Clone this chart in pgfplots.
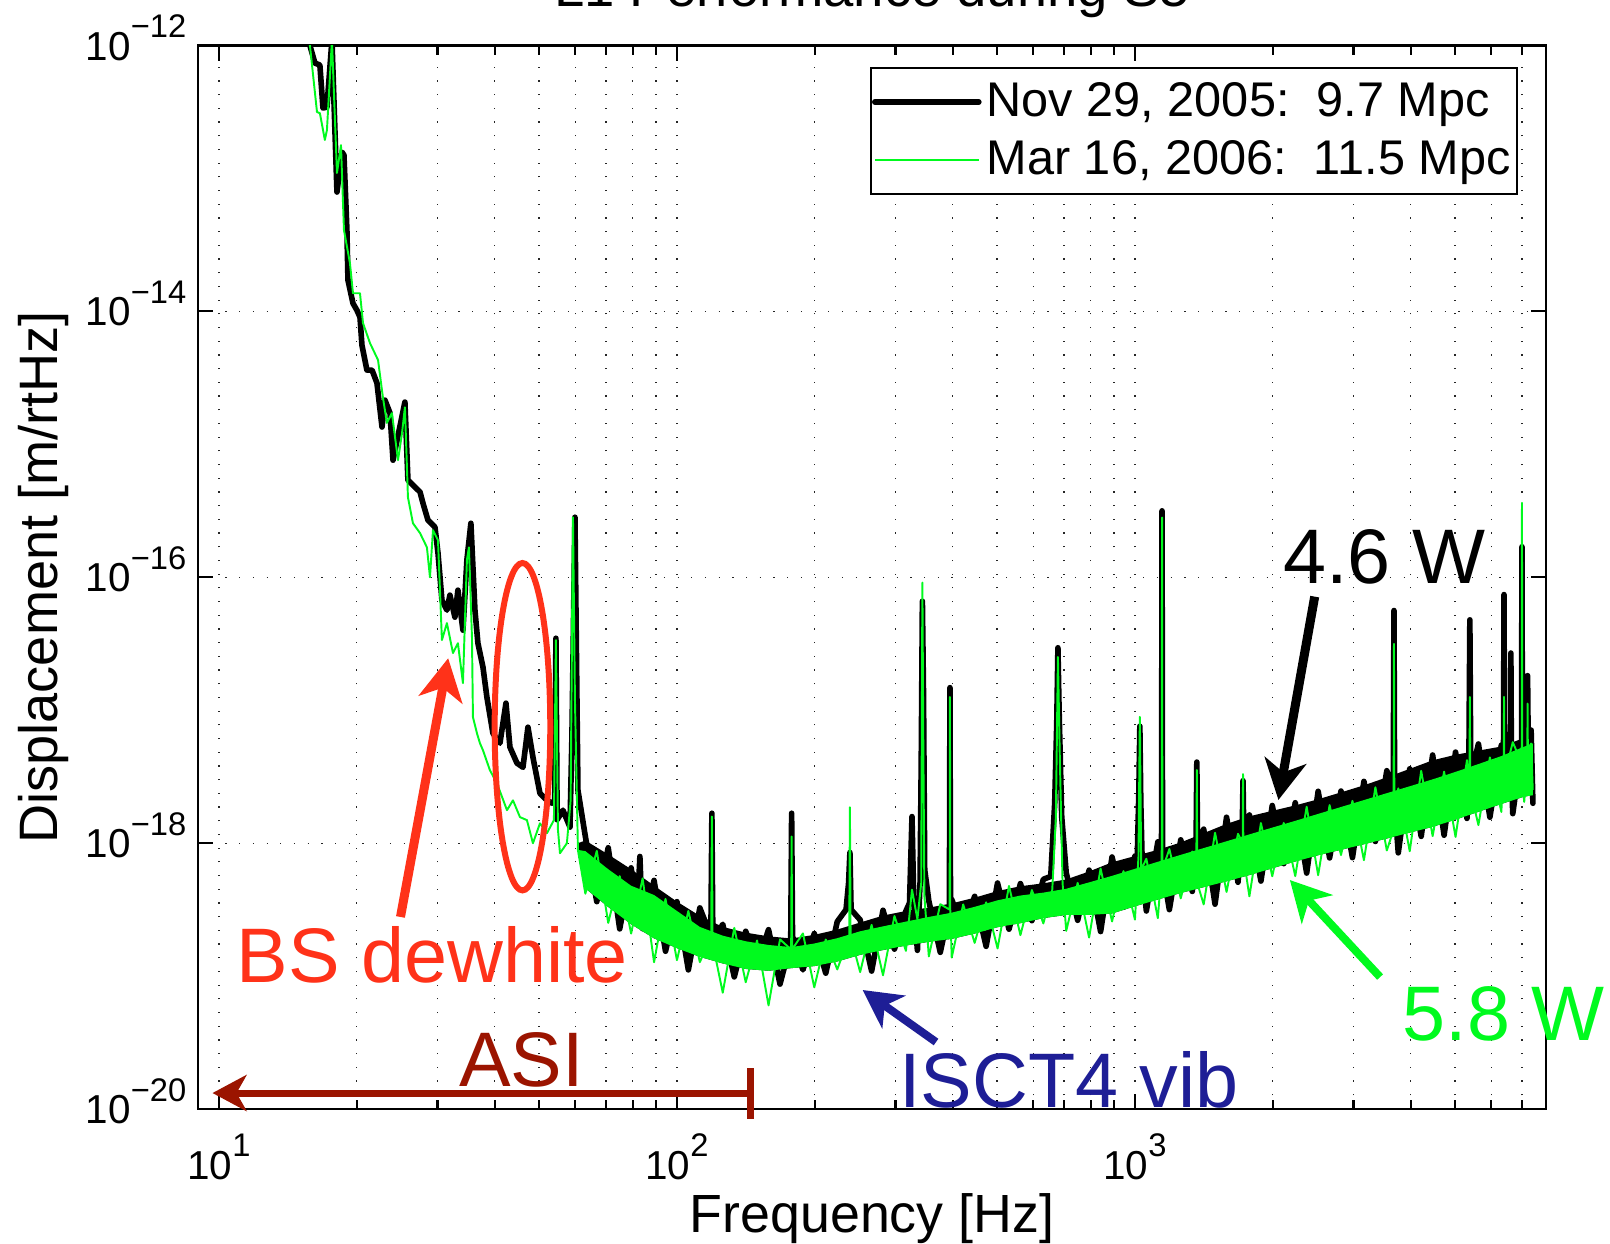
\documentclass[border=0pt]{standalone}
\usepackage{fontspec}
\setmainfont{Liberation Sans}
\usepackage{pgfplots}
\pgfplotsset{compat=1.18}
\usetikzlibrary{arrows.meta}
\definecolor{sgreen}{RGB}{0,250,30}
\definecolor{bsred}{RGB}{255,50,25}
\definecolor{asired}{RGB}{155,20,0}
\definecolor{iscblue}{RGB}{30,30,150}
\newcommand{\tp}[1]{10\raisebox{0.55em}{\fontsize{9.3}{10}\selectfont #1}}
\newcommand{\annfont}{\fontsize{22}{26}\selectfont}

\begin{document}
\begin{tikzpicture}
\begin{axis}[
  scale only axis, width=134.8mm, height=106.35mm,
  xmode=log, ymode=log,
  xmin=9, xmax=7900, ymin=1e-20, ymax=1e-12,
  clip mode=individual,
  xtick={10,100,1000},
  xticklabels={\tp{1},\tp{2},\tp{3}},
  minor xtick={20,30,40,50,60,70,80,90,200,300,400,500,600,700,800,900,2000,3000,4000,5000,6000,7000},
  ytick={1e-20,1e-18,1e-16,1e-14,1e-12},
  yticklabels={\tp{−20},\tp{−18},\tp{−16},\tp{−14},\tp{−12}},
  yminorticks=false,
  tick align=inside, major tick length=1.5mm, minor tick length=0.9mm,
  every tick/.append style={black, line width=0.6pt},
  axis line style={line width=0.7pt},
  xmajorgrids=true, xminorgrids=true, ymajorgrids=true,
  grid style={dash pattern=on 0.12mm off 1.25mm, line width=0.13mm, black!85},
  minor grid style={dash pattern=on 0.12mm off 1.25mm, line width=0.13mm, black!85},
  xticklabel style={font=\fontsize{11.5}{13}\selectfont, anchor=base, inner sep=0pt, yshift=-7mm},
  yticklabel style={font=\fontsize{11.5}{13}\selectfont, anchor=base east, inner sep=0pt, xshift=-1.1mm, yshift=-1.45mm},
  xlabel={Frequency [Hz]},
  ylabel={Displacement [m/rtHz]},
  xlabel style={at={(axis description cs:0.5,-0.1157)}, anchor=base, inner sep=0pt, font=\fontsize{15.3}{18}\selectfont},
  ylabel style={at={(axis description cs:-0.1046,0.5)}, anchor=base, inner sep=0pt, font=\fontsize{15.4}{18}\selectfont},
  title={L1 Performance during S5},
  every axis title shift=0pt,
  title style={at={(axis description cs:0.5,1.0371)}, anchor=base, inner sep=0pt, font=\fontsize{15.5}{18}\selectfont},
  legend style={at={(rel axis cs:0.979,0.980)}, anchor=north east, draw=black, line width=0.6pt, fill=white,
    font=\fontsize{13.85}{16}\selectfont, inner xsep=0.1mm, inner ysep=0.95mm, row sep=0.9mm,
    nodes={inner sep=0.5mm}, cells={anchor=west}},
  legend cell align=left,
  legend image code/.code={\path (0mm,0mm) -- (1.1mm,0mm); \draw[#1] (1.1mm,0mm) -- (10.4mm,0mm);},
]
% black noise band (upper edge, then green-band lower edge back)
\addplot[fill=black, draw=none, forget plot] coordinates {
(60.8,1.0e-18) (63.10,1.047e-18) (70.79,8.222e-19) (79.43,6.368e-19) (89.13,4.786e-19)
(100,3.631e-19) (112.2,2.838e-19) (125.9,2.344e-19) (141.3,2.123e-19) (158.5,1.991e-19)
(177.8,1.919e-19) (199.5,2.042e-19) (223.9,2.239e-19) (251.2,2.529e-19) (281.8,2.851e-19)
(316.2,3.09e-19) (354.8,3.273e-19) (398.1,3.524e-19) (446.7,3.89e-19) (501.2,4.365e-19)
(562.3,4.742e-19) (631.0,4.989e-19) (707.9,5.333e-19) (794.3,6.124e-19) (891.3,7.178e-19)
(1000,8.0e-19) (1122,8.913e-19) (1259,1.012e-18) (1413,1.189e-18) (1585,1.396e-18)
(1778,1.592e-18) (1995,1.750e-18) (2239,1.923e-18) (2512,2.138e-18) (2818,2.410e-18)
(3162,2.723e-18) (3548,3.126e-18) (3981,3.622e-18) (4467,4.198e-18) (5012,4.624e-18)
(5623,4.966e-18) (6310,5.333e-18) (7079,6.194e-18) (7390,6.457e-18)
(7390,2.291e-18) (7079,2.239e-18) (6310,1.972e-18) (5623,1.722e-18) (5012,1.503e-18)
(4467,1.327e-18) (3981,1.2e-18) (3548,1.084e-18) (3162,9.817e-19) (2818,8.913e-19)
(2512,8.11e-19) (2239,7.278e-19) (1995,6.471e-19) (1778,5.754e-19) (1585,5.164e-19)
(1413,4.667e-19) (1259,4.217e-19) (1122,3.767e-19) (1000,3.35e-19) (891.3,2.958e-19)
(794.3,2.884e-19) (707.9,2.884e-19) (631.0,2.729e-19) (562.3,2.5e-19) (501.2,2.333e-19)
(446.7,2.089e-19) (398.1,1.905e-19) (354.8,1.811e-19) (316.2,1.698e-19) (281.8,1.57e-19)
(251.2,1.445e-19) (223.9,1.288e-19) (199.5,1.189e-19) (177.8,1.148e-19) (158.5,1.096e-19)
(141.3,1.132e-19) (125.9,1.245e-19) (112.2,1.396e-19) (100,1.622e-19) (89.13,1.923e-19)
(79.43,2.455e-19) (70.79,3.311e-19) (63.10,4.571e-19) (60.8,8.9e-19)
};

% Nov 29, 2005
\addplot[black, line width=1.6pt, line join=round, line cap=round] coordinates {
(15.56,1.55e-12) (15.80,1.0e-12) (16.20,7.38e-13) (16.61,7.13e-13) (16.87,3.39e-13)
(17.21,3.44e-13) (17.65,1.1e-12) (18.10,7.91e-14) (18.56,1.58e-13) (18.75,1.50e-13)
(19.03,4.09e-14) (19.13,1.72e-14) (19.62,1.15e-14) (20.01,1.02e-14) (20.32,9.06e-15)
(20.52,5.58e-15) (21.04,3.62e-15) (21.59,3.62e-15) (22.13,2.89e-15) (22.70,1.35e-15)
(23.04,2.15e-15) (23.63,1.72e-15) (23.99,7.6e-16) (25.47,2.08e-15) (25.86,5.38e-16)
(27.48,4.38e-16) (27.89,3.61e-16) (28.60,2.69e-16) (29.63,2.38e-16) (30.08,1.52e-16)
(30.68,6.73e-17) (31.46,5.66e-17) (31.94,7.34e-17) (32.75,5.01e-17) (33.25,8.0e-17)
(34.10,4.0e-17) (34.79,1.35e-16) (35.49,2.55e-16) (36.22,5.66e-17) (36.77,3.19e-17)
(37.71,2.11e-17) (38.47,1.25e-17) (39.65,6.71e-18) (41.07,5.65e-18) (42.33,1.13e-17)
(43.19,5.27e-18) (44.74,4.0e-18) (46.11,3.72e-18) (47.28,7.45e-18) (48.48,4.43e-18)
(50.22,2.37e-18) (52.02,2.10e-18) (53.34,2.0e-18) (54.10,2.1e-18) (54.42,3.48e-17)
(54.75,1.5e-18) (56.38,1.77e-18) (58.40,1.32e-18) (58.98,6.27e-18) (59.88,2.83e-16)
(60.79,2.50e-18)
(63.10,1.122e-18) (66.83,3.631e-19) (70.79,9.23e-19) (74.99,2.265e-19) (79.43,6.516e-19)
(82.0,3.16e-19) (83.0,7.94e-19) (84.14,2.275e-19) (89.13,5.248e-19) (94.41,1.538e-19)
(100,3.631e-19) (105.9,1.114e-19) (112.2,3.258e-19) (118.6,1.995e-19) (119.2,1.679e-18)
(119.8,1.778e-19) (125.9,2.455e-19) (133.4,9.86e-20) (141.3,2.173e-19) (149.6,1.222e-19)
(158.5,2.234e-19) (167.9,8.71e-20) (177.2,1.778e-19) (178.0,1.679e-18) (178.8,1.995e-19)
(188.4,1.114e-19) (199.5,2.089e-19) (211.3,1.052e-19) (223.9,2.57e-19) (234,3.162e-19)
(237,5.012e-19) (238.6,8.51e-19) (240,3.162e-19) (251.2,2.649e-19) (266.1,1.091e-19)
(281.8,3.126e-19) (298.5,1.596e-19) (316.2,3.09e-19) (322,3.548e-19) (326,1.585e-18)
(329,3.548e-19) (335.0,1.563e-19) (339.5,5.012e-19) (341.5,3.981e-18) (343.5,6.607e-17)
(345.5,1.259e-17) (347.5,6.31e-19) (354.8,3.673e-19) (375.8,1.51e-19) (393.5,3.162e-19)
(394.6,1.479e-17) (395.7,3.162e-19) (398.1,3.776e-19) (421.7,2.138e-19) (446.7,3.981e-19)
(473.2,1.675e-19) (501.2,5.012e-19) (530.9,2.254e-19) (562.3,4.966e-19) (595.7,2.612e-19)
(631.0,5.346e-19) (655,5.623e-19) (668,1.995e-18) (675,7.943e-18) (679,2.951e-17)
(683,1.0e-17) (692,1.585e-18) (707.9,5.984e-19) (749.9,2.63e-19) (794.3,6.266e-19)
(841.4,2.163e-19) (891.3,7.87e-19) (944.1,3.296e-19) (1000,8.0e-19) (1012,7.943e-19)
(1020,2.512e-18) (1025,7.586e-18) (1030,1.995e-18) (1038,6.31e-19) (1059,3.09e-19)
(1122,1.023e-18) (1143,7.943e-19) (1146,3.162e-16) (1149,6.31e-19) (1189,3.162e-19)
(1259,1.059e-18) (1334,4.335e-19) (1360,1.0e-18) (1365,4.074e-18) (1370,1.0e-18)
(1413,1.274e-18) (1496,3.475e-19) (1585,1.567e-18) (1679,5.082e-19) (1716,1.413e-18)
(1722,2.951e-18) (1728,1.259e-18) (1778,1.629e-18) (1884,5.188e-19) (1995,1.919e-18)
(2113,7.015e-19) (2239,2.014e-18) (2371,5.957e-19) (2512,2.455e-18) (2661,7.745e-19)
(2818,2.466e-18) (2985,7.78e-19) (3162,2.917e-18) (3350,1.03e-18) (3548,3.508e-18)
(3665,2.512e-18) (3678,5.623e-17) (3691,1.995e-18) (3758,8.453e-19) (3981,3.622e-18)
(4217,1.125e-18) (4467,4.603e-18) (4732,1.148e-18) (5012,4.842e-18) (5309,1.535e-18)
(5360,3.981e-18) (5386,4.786e-17) (5412,3.162e-18) (5623,5.572e-18) (5957,1.567e-18)
(6310,5.458e-18) (6380,5.012e-18) (6396,7.413e-17) (6412,3.981e-18) (6600,2.512e-18)
(6620,2.692e-17) (6640,3.162e-18) (6683,1.667e-18) (6985,5.012e-18) (7000,1.698e-16)
(7015,3.981e-18) (7079,6.637e-18) (7180,3.162e-18) (7200,1.82e-17) (7220,6.31e-18)
(7330,7.079e-18) (7396,1.995e-18)
};
\addlegendentry{Nov 29, 2005:\ \ 9.7 Mpc}

% green noise band (upper edge, then lower edge back)
\addplot[fill=sgreen, draw=none, forget plot] coordinates {
(60.8,8.9e-19) (63.10,8.71e-19) (70.79,6.368e-19) (79.43,4.786e-19) (89.13,4.074e-19)
(100,3.09e-19) (112.2,2.344e-19) (125.9,2.014e-19) (141.3,1.828e-19) (158.5,1.714e-19)
(177.8,1.652e-19) (199.5,1.758e-19) (223.9,1.928e-19) (251.2,2.173e-19) (281.8,2.366e-19)
(316.2,2.57e-19) (354.8,2.786e-19) (398.1,2.999e-19) (446.7,3.319e-19) (501.2,3.715e-19)
(562.3,4.036e-19) (631.0,4.246e-19) (707.9,4.539e-19) (794.3,5.07e-19) (891.3,5.675e-19)
(1000,6.412e-19) (1122,7.244e-19) (1259,8.166e-19) (1413,9.183e-19) (1585,1.033e-18)
(1778,1.164e-18) (1995,1.309e-18) (2239,1.472e-18) (2512,1.66e-18) (2818,1.871e-18)
(3162,2.109e-18) (3548,2.377e-18) (3981,2.679e-18) (4467,3.02e-18) (5012,3.436e-18)
(5623,3.936e-18) (6310,4.519e-18) (7079,5.321e-18) (7390,5.623e-18)
(7390,2.291e-18) (7079,2.239e-18) (6310,1.972e-18) (5623,1.722e-18) (5012,1.503e-18)
(4467,1.327e-18) (3981,1.2e-18) (3548,1.084e-18) (3162,9.817e-19) (2818,8.913e-19)
(2512,8.11e-19) (2239,7.278e-19) (1995,6.471e-19) (1778,5.754e-19) (1585,5.164e-19)
(1413,4.667e-19) (1259,4.217e-19) (1122,3.767e-19) (1000,3.35e-19) (891.3,2.958e-19)
(794.3,2.884e-19) (707.9,2.884e-19) (631.0,2.729e-19) (562.3,2.5e-19) (501.2,2.333e-19)
(446.7,2.089e-19) (398.1,1.905e-19) (354.8,1.811e-19) (316.2,1.698e-19) (281.8,1.57e-19)
(251.2,1.445e-19) (223.9,1.288e-19) (199.5,1.189e-19) (177.8,1.148e-19) (158.5,1.096e-19)
(141.3,1.132e-19) (125.9,1.245e-19) (112.2,1.396e-19) (100,1.622e-19) (89.13,1.923e-19)
(79.43,2.455e-19) (70.79,3.311e-19) (63.10,4.571e-19) (60.8,8.9e-19)
};

% Mar 16, 2006
\addplot[sgreen, line width=0.55pt, line join=round] coordinates {
(15.56,1.55e-12) (15.80,1.0e-12) (16.37,3.16e-13) (16.61,3.1e-13) (17.03,1.95e-13)
(17.21,2.31e-13) (17.65,1.1e-12) (18.10,1.10e-13) (18.47,1.78e-13) (18.75,4.09e-14)
(19.32,2.31e-14) (19.62,1.37e-14) (20.32,1.37e-14) (20.63,8.17e-15) (21.37,5.77e-15)
(22.25,4.31e-15) (22.80,2.26e-15) (23.27,1.45e-15) (23.86,1.72e-15) (24.60,7.6e-16)
(25.10,1.21e-15) (25.47,1.9e-15) (25.86,4.0e-16) (26.52,2.55e-16) (27.48,2.15e-16)
(28.45,1.68e-16) (28.89,1.0e-16) (29.33,2.26e-16) (30.08,1.9e-16) (30.68,3.37e-17)
(31.46,4.52e-17) (32.43,2.69e-17) (33.25,3.19e-17) (34.10,1.6e-17) (34.79,1.35e-16)
(35.14,1.68e-16) (35.68,3.54e-17) (35.86,8.85e-18) (36.59,6.71e-18) (37.14,5.65e-18)
(37.71,5.0e-18) (39.05,3.54e-18) (40.46,2.82e-18) (42.55,1.77e-18) (43.85,2.1e-18)
(45.42,1.57e-18) (47.04,1.49e-18) (48.48,9.98e-19) (50.22,1.41e-18) (52.02,1.19e-18)
(53.87,1.49e-18) (54.42,3.37e-17) (54.98,1.26e-18) (55.54,8.4e-19) (57.5,9.98e-19)
(58.6,2.1e-18) (59.29,2.83e-16) (59.88,1.2e-17) (60.79,8.85e-19)
(63.10,4.169e-19) (66.83,8.75e-19) (70.79,2.512e-19) (74.99,5.649e-19) (79.43,2.089e-19)
(84.14,5.433e-19) (89.13,1.271e-19) (94.41,3.802e-19) (100,1.318e-19) (105.9,3.09e-19)
(112.2,1.274e-19) (118.8,1.995e-19) (119.2,1.585e-18) (119.6,1.778e-19) (125.9,7.499e-20)
(133.4,2.307e-19) (141.3,8.995e-20) (149.6,1.854e-19) (158.5,6.026e-20) (167.9,1.888e-19)
(177.6,1.585e-19) (178.0,1.122e-18) (178.4,1.585e-19) (188.4,2.094e-19) (199.5,8.222e-20)
(211.3,1.884e-19) (223.9,1.122e-19) (237.8,1.995e-19) (238.6,1.862e-18) (239.4,1.995e-19)
(251.2,1.072e-19) (266.1,2.427e-19) (281.8,1.014e-19) (298.5,2.831e-19) (316.2,1.549e-19)
(326,4.467e-19) (335.0,2.673e-19) (341.5,5.012e-19) (343.5,9.12e-17) (345.0,6.31e-18)
(347.0,3.981e-19) (354.8,1.406e-19) (375.8,3.475e-19) (394.0,3.162e-19) (394.6,1.259e-17)
(395.2,3.162e-19) (398.1,1.38e-19) (421.7,3.459e-19) (446.7,1.778e-19) (473.2,3.589e-19)
(501.2,1.614e-19) (530.9,4.764e-19) (562.3,2.032e-19) (595.7,4.436e-19) (631.0,2.489e-19)
(660,4.467e-19) (672,1.585e-18) (679,2.512e-17) (685,5.012e-18) (695,5.012e-19)
(707.9,2.188e-19) (749.9,5.023e-19) (794.3,1.95e-19) (841.4,6.442e-19) (891.3,2.576e-19)
(944.1,6.166e-19) (1000,2.661e-19) (1018,7.943e-19) (1025,8.913e-18) (1032,6.31e-19)
(1059,7.638e-19) (1122,2.729e-19) (1144,6.31e-19) (1146,2.818e-16) (1148,6.31e-19)
(1189,9.036e-19) (1259,3.846e-19) (1334,8.65e-19) (1362,7.943e-19) (1365,3.548e-18)
(1368,5.012e-19) (1413,3.459e-19) (1496,1.197e-18) (1585,4.295e-19) (1679,1.175e-18)
(1719,1.0e-18) (1722,3.311e-18) (1725,7.943e-19) (1778,3.981e-19) (1884,1.416e-18)
(1995,5.636e-19) (2113,1.419e-18) (2239,5.649e-19) (2371,1.879e-18) (2512,5.741e-19)
(2661,1.932e-18) (2818,8.128e-19) (2985,2.080e-18) (3162,7.447e-19) (3350,2.63e-18)
(3548,8.81e-19) (3670,1.259e-18) (3678,3.162e-17) (3686,1.259e-18) (3758,2.582e-18)
(3981,8.69e-19) (4217,3.499e-18) (4467,1.13e-18) (4732,3.451e-18) (5012,1.114e-18)
(5309,4.217e-18) (5375,2.512e-18) (5386,1.259e-17) (5397,2.512e-18) (5623,1.368e-18)
(5957,4.416e-18) (6310,1.718e-18) (6388,3.981e-18) (6396,1.259e-17) (6404,3.162e-18)
(6683,5.754e-18) (6990,3.981e-18) (7000,3.631e-16) (7010,3.162e-18) (7079,2.042e-18)
(7190,3.981e-18) (7200,1.122e-17) (7210,5.012e-18) (7330,5.623e-18) (7390,2.512e-18)
};
\addlegendentry{Mar 16, 2006:\ \ 11.5 Mpc}

% annotations
\node[anchor=base, inner sep=0pt, font=\annfont, text=black] at (rel axis cs:0.880,0.494) {4.6 W};
\draw[black, line width=0.9mm, -{Stealth[length=4mm,width=4.2mm,inset=1.2mm]}]
  (rel axis cs:0.8284,0.4818) -- (rel axis cs:0.8015,0.2906);
\node[anchor=base west, inner sep=0pt, font=\annfont, text=sgreen] at (rel axis cs:0.8931,0.0647) {5.8 W};
\draw[sgreen, line width=0.8mm, -{Stealth[length=4mm,width=4.2mm,inset=1.2mm]}]
  (rel axis cs:0.8769,0.1241) -- (rel axis cs:0.8100,0.2153);
\node[anchor=base west, inner sep=0pt, font=\annfont, text=bsred] at (rel axis cs:0.0282,0.1188) {BS dewhite};
\draw[bsred, line width=0.9mm, -{Stealth[length=4.2mm,width=4.4mm,inset=1.2mm]}]
  (rel axis cs:0.1502,0.1806) -- (rel axis cs:0.1856,0.4239);
\draw[bsred, line width=0.6mm] (rel axis cs:0.2407,0.3595) ellipse [x radius=2.78mm, y radius=16.37mm];
\node[anchor=base, inner sep=0pt, font=\annfont, text=asired] at (rel axis cs:0.2401,0.0212) {ASI};
\draw[asired, line width=0.7mm, -{Stealth[length=3.4mm,width=3.6mm,inset=1mm]}]
  (rel axis cs:0.4095,0.01504) -- (rel axis cs:0.01076,0.01504);
\draw[asired, line width=0.7mm] (rel axis cs:0.4095,0.03855) -- (rel axis cs:0.4095,-0.0094);
\node[anchor=base west, inner sep=0pt, font=\annfont, text=iscblue] at (rel axis cs:0.5196,0.0019) {ISCT4 vib};
\draw[iscblue, line width=0.8mm, -{Stealth[length=3.8mm,width=4mm,inset=1.1mm]}]
  (rel axis cs:0.5475,0.0630) -- (rel axis cs:0.4931,0.1119);
\end{axis}
\pgfresetboundingbox
\useasboundingbox (-19.8mm,-13.5mm) rectangle (141.2mm,110.9mm);
\end{tikzpicture}
\end{document}
